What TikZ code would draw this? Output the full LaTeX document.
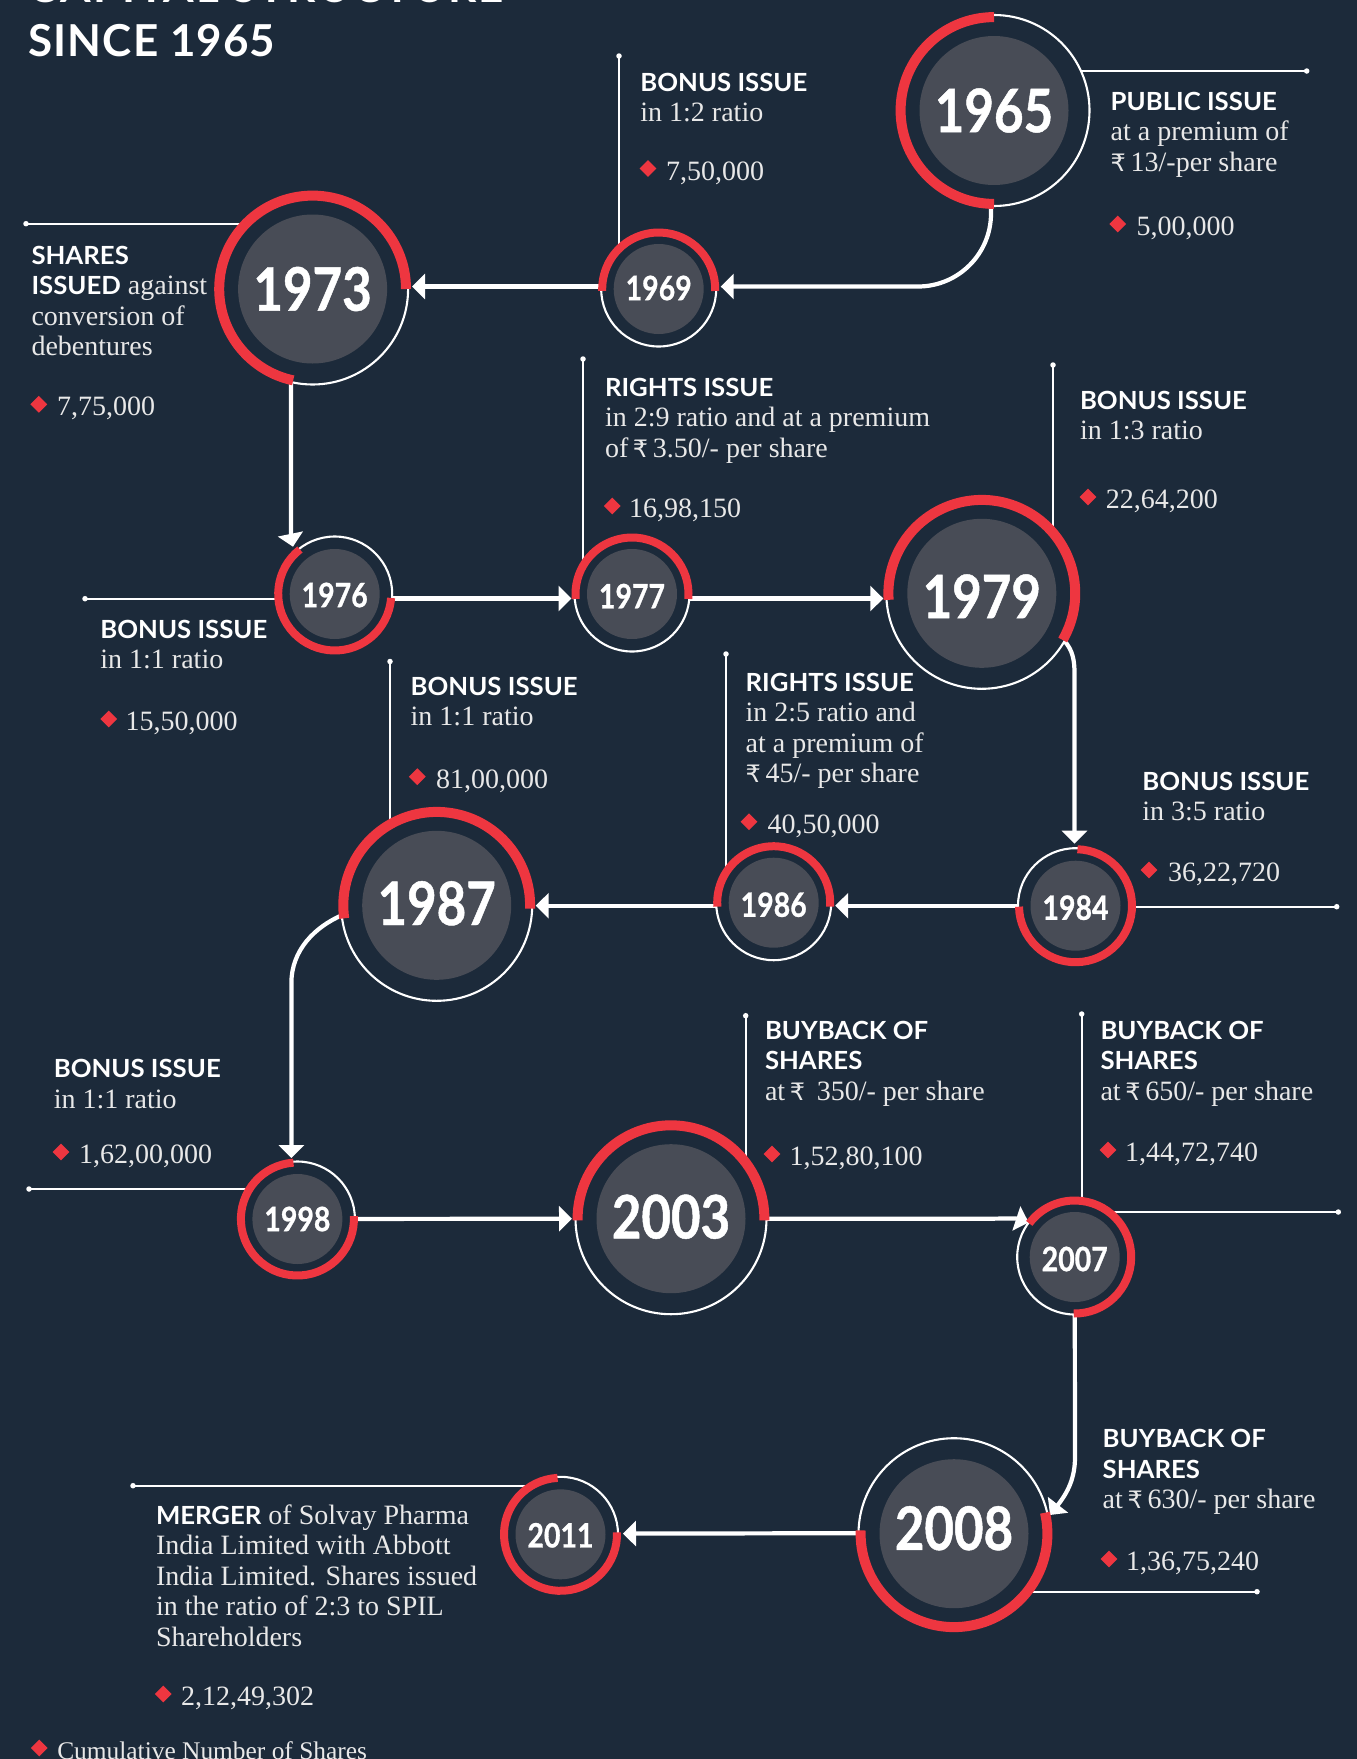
\documentclass[tikz,border=0pt]{standalone}
\usepackage{fontspec}
\setmainfont{Liberation Serif}
\newfontfamily\hdfont[FakeStretch=1.03]{Lato}
\newfontfamily\yearfont[FakeStretch=0.85,FakeBold=0.8]{Lato}
\newfontfamily\titlefont[LetterSpace=2.3]{Lato}
\newfontfamily\titlefontw[LetterSpace=5.3]{Lato}
\newfontfamily\rupeefont{DejaVu Sans}
\usetikzlibrary{arrows.meta,shapes.geometric}
\definecolor{bgc}{RGB}{28,42,58}
\definecolor{discc}{RGB}{72,76,86}
\definecolor{redc}{RGB}{238,54,64}
\definecolor{txtc}{RGB}{232,232,232}
\pgfdeclarelayer{back}
\pgfsetlayers{back,main}
\newcommand{\Rs}{{\rupeefont\fontsize{24}{30.6}\selectfont\char"20B9}}
\newcommand{\hd}[1]{{\hdfont\bfseries\fontsize{25}{30.6}\selectfont\color{white}\strut #1}}
\tikzset{
  x=1pt,y=1pt,
  bigring/.style={circle,draw=white,line width=2.1pt,fill=bgc,minimum size=191pt,inner sep=0pt,outer sep=0pt},
  smallring/.style={circle,draw=white,line width=2.1pt,fill=bgc,minimum size=115pt,inner sep=0pt,outer sep=0pt},
  bigarc/.style={draw=redc,line width=10pt},
  smallarc/.style={draw=redc,line width=8pt},
  bigdisc/.style={circle,fill=discc,minimum size=149pt,inner sep=0pt},
  smalldisc/.style={circle,fill=discc,minimum size=90pt,inner sep=0pt},
  bigyeartext/.style={inner sep=0pt,text=white,font=\yearfont\bfseries\fontsize{60}{60}\selectfont},
  smallyeartext/.style={inner sep=0pt,text=white,font=\yearfont\bfseries\fontsize{33.5}{34}\selectfont},
  conn/.style={draw=white,line width=4.2pt,-{Triangle[length=13pt,width=25pt]}},
  leader/.style={draw=white,line width=1.6pt},
  dotn/.style={circle,fill=white,minimum size=5.5pt,inner sep=0pt},
  lbl/.style={anchor=north west,inner sep=0pt,outer sep=0pt,align=left,text=txtc,font=\fontsize{28}{30.6}\selectfont},
  valn/.style={anchor=base west,inner sep=0pt,outer sep=0pt,text=txtc,font=\fontsize{28}{30.6}\selectfont},
  dia/.style={diamond,fill=redc,inner sep=0pt,minimum size=17pt},
  titlen/.style={anchor=base west,inner sep=0pt,text=white,font=\bfseries\fontsize{44}{50}\selectfont},
}
\newcommand{\bigyear}[6]{%
  \node[bigring] (n#1) at (#2,-#3) {};
  \draw[bigarc] (n#1.center) ++(#4:93.4) arc[start angle=#4,end angle=#5,radius=93.4];
  \node[bigdisc] (d#1) at (n#1.center) {};
  \node[bigyeartext] (y#1) at ([yshift=#6pt]n#1.center) {#1};}
\newcommand{\smallyear}[6]{%
  \node[smallring] (n#1) at (#2,-#3) {};
  \draw[smallarc] (n#1.center) ++(#4:56.5) arc[start angle=#4,end angle=#5,radius=56.5];
  \node[smalldisc] (d#1) at (n#1.center) {};
  \node[smallyeartext] (y#1) at ([yshift=#6pt]n#1.center) {#1};}
\newcommand{\info}[4]{\node[lbl] (t#1) at (#2,{-#3+20.42}) {#4};}
\newcommand{\val}[5]{%
  \node[dia] (m#1) at (#2,-#3) {};
  \node[valn] (v#1) at (#4,{-#3-11.5}) {#5};}
\newcommand{\tick}[3]{\node[dotn] (p#1) at (#2,-#3) {};}
\begin{document}
\begin{tikzpicture}
\useasboundingbox (0,0) rectangle (1357,-1759);
\begin{pgfonlayer}{back}
  \fill[bgc] (0,0) rectangle (1357,-1759);
\end{pgfonlayer}

% title
\node[titlen] (title1) at (28.5,-2) {\titlefontw\bfseries CAPITAL STRUCTURE};
\node[titlen] (title2) at (28.5,-56) {\titlefont\bfseries SINCE 1965};

% year circles
\bigyear{1965}{994}{110.5}{90}{270}{0}
\smallyear{1969}{658.7}{289}{-2}{182}{1}
\bigyear{1973}{312.6}{289}{0}{258}{0}
\smallyear{1976}{334.7}{594}{128}{356}{-1}
\smallyear{1977}{632}{594}{-5}{185}{-2}
\bigyear{1979}{981.8}{593.3}{-30}{184}{-3}
\smallyear{1984}{1075.5}{905.7}{181}{448}{-2}
\smallyear{1986}{773.7}{902.7}{-4}{184}{-2}
\bigyear{1987}{436.7}{905.3}{-2}{188}{2}
\smallyear{1998}{297.4}{1219}{94}{363}{0}
\smallyear{2007}{1074.7}{1257}{-91}{143.5}{-2}
\bigyear{2003}{671}{1218.7}{-1}{181}{2}
\bigyear{2008}{954}{1533.7}{13}{-182}{5.5}
\smallyear{2011}{560.5}{1534.3}{93}{362}{-1}

% labels
\info{1965}{1110.7}{109}{\hd{PUBLIC ISSUE}\\at a premium of\\\Rs\,13/-per share}
\val{1965}{1117.7}{224}{1136.7}{5,00,000}
\info{1969}{640.4}{90}{\hd{BONUS ISSUE}\\in 1:2 ratio}
\val{1969}{648}{168.5}{666}{7,50,000}
\info{1973}{31.5}{263}{\hd{SHARES}\\\hd{ISSUED} against\\conversion of\\debentures}
\val{1973}{38.8}{404.3}{57}{7,75,000}
\info{1977}{605}{395}{\hd{RIGHTS ISSUE}\\in 2:9 ratio and at a premium\\of\,\Rs\,3.50/- per share}
\val{1977}{612.3}{506}{629}{16,98,150}
\info{1979}{1080}{408}{\hd{BONUS ISSUE}\\in 1:3 ratio}
\val{1979}{1088}{497}{1105.8}{22,64,200}
\info{1976}{100.4}{637}{\hd{BONUS ISSUE}\\in 1:1 ratio}
\val{1976}{108.8}{719}{125.6}{15,50,000}
\info{1987}{410.7}{694}{\hd{BONUS ISSUE}\\in 1:1 ratio}
\val{1987}{417.3}{776.7}{436}{81,00,000}
\info{1986}{745.6}{690}{\hd{RIGHTS ISSUE}\\in 2:5 ratio and\\at a premium of\\\Rs\,45/- per share}
\val{1986}{749}{821.7}{767.6}{40,50,000}
\info{1984}{1142.4}{789.3}{\hd{BONUS ISSUE}\\in 3:5 ratio}
\val{1984}{1149}{870}{1168}{36,22,720}
\info{1998}{53.8}{1076.6}{\hd{BONUS ISSUE}\\in 1:1 ratio}
\val{1998}{61}{1152}{79}{1,62,00,000}
\info{2003}{765}{1038}{\hd{BUYBACK OF}\\\hd{SHARES}\\at\,\Rs\, 350/- per share}
\val{2003}{772}{1154}{789.5}{1,52,80,100}
\info{2007}{1100.5}{1038}{\hd{BUYBACK OF}\\\hd{SHARES}\\at\,\Rs\,650/- per share}
\val{2007}{1108}{1150}{1125}{1,44,72,740}
\info{2008}{1102.7}{1446.7}{\hd{BUYBACK OF}\\\hd{SHARES}\\at\,\Rs\,630/- per share}
\val{2008}{1109}{1559}{1126}{1,36,75,240}
\info{2011}{156}{1523}{\hd{MERGER} of Solvay Pharma\\India Limited with Abbott\\India Limited. Shares issued\\in the ratio of 2:3 to SPIL\\Shareholders}
\val{2011}{163.3}{1694}{181}{2,12,49,302}
\val{legend}{39.3}{1748}{57.3}{\fontsize{25.4}{30}\selectfont Cumulative Number of Shares}

% leader end dots
\tick{1965}{1306.7}{71}
\tick{1969}{619}{56}
\tick{1973}{26}{223.7}
\tick{1977}{583}{359}
\tick{1979}{1053}{365}
\tick{1976}{85}{598.7}
\tick{1987}{390}{661.5}
\tick{1986}{726}{654}
\tick{1984}{1336.7}{906.7}
\tick{1998}{29}{1189}
\tick{2003}{745.7}{1015.7}
\tick{2007a}{1081.7}{1014}
\tick{2007b}{1338.3}{1212}
\tick{2008}{1257}{1591.7}
\tick{2011}{133}{1485.7}

% waypoints of the bent connectors
\coordinate (w1973) at (291,-515);
\coordinate (w1979) at (1074.5,-673);
\coordinate (w1987) at (291.4,-983);
\coordinate (w2003) at (985,-1218.7);
\coordinate (w2007) at (1075,-1457);

\begin{pgfonlayer}{back}
  % leaders
  \draw[leader] (p1965.center) -- (p1965.center -| n1965.center);
  \draw[leader] (p1969.center) -- (p1969.center |- n1969.center);
  \draw[leader] (p1973.center) -- (p1973.center -| n1973.center);
  \draw[leader] (p1977.center) -- (p1977.center |- n1977.center);
  \draw[leader] (p1979.center) -- (p1979.center |- n1979.center);
  \draw[leader] (p1976.center) -- (p1976.center -| n1976.center);
  \draw[leader] (p1987.center) -- (p1987.center |- n1987.center);
  \draw[leader] (p1986.center) -- (p1986.center |- n1986.center);
  \draw[leader] (p1984.center) -- (p1984.center -| n1984.center);
  \draw[leader] (p1998.center) -- (p1998.center -| n1998.center);
  \draw[leader] (p2003.center) -- (p2003.center |- n2003.center);
  \draw[leader] (p2007a.center) -- (p2007a.center |- n2007.center);
  \draw[leader] (p2007b.center) -- (p2007b.center -| n2007.center);
  \draw[leader] (p2008.center) -- (p2008.center -| n2008.center);
  \draw[leader] (p2011.center) -- (p2011.center -| n2011.center);

  % flow connectors
  \draw[conn,rounded corners=73pt] ([xshift=-3pt]n1965.center) |- ([xshift=4.5pt,yshift=2.5pt]n1969.east);
  \draw[conn] ([yshift=2.5pt]n1969.center) -- ([xshift=4pt,yshift=2.5pt]n1973.east);
  \draw[conn] ([xshift=-21.6pt]n1973.center) -- (w1973) .. controls (291,-530) and (291,-537) .. ([shift={(-41.7,47.3)}]n1976.center);
  \draw[conn] ([yshift=-4.5pt]n1976.center) -- ([xshift=-3pt,yshift=-4.5pt]n1977.west);
  \draw[conn] ([yshift=-4.5pt]n1977.center) -- ([xshift=-3pt]n1979.west |- 0,-598.5);
  \draw[conn] (n1979.-30) .. controls (1072.5,-650) and (1074.5,-660) .. (w1979) -- ([xshift=-1pt,yshift=4.5pt]n1984.north);
  \draw[conn] (n1984.center) -- ([xshift=4pt]n1986.east |- n1984.center);
  \draw[conn] (n1984.center -| n1986.center) -- ([xshift=3.5pt]n1987.east |- n1984.center);
  \draw[conn] (n1987.186) .. controls (315,-927) and (291.4,-950) .. (w1987) -- ([xshift=-6pt,yshift=3.5pt]n1998.north);
  \draw[conn] (n1998.center) -- ([xshift=-3.5pt]n2003.west);
  \draw[conn] (n2003.center) -- (w2003) .. controls (1003,-1218.7) and (1015,-1218) .. ([shift={(-46,34.5)}]n2007.center);
  \draw[conn] (n2007.center) -- (w2007) .. controls (1075,-1478) and (1068,-1492) .. ([shift={(96,18.7)}]n2008.center);
  \draw[conn] ([yshift=0.7pt]n2008.center) -- ([xshift=5pt,yshift=0.7pt]n2011.east);
\end{pgfonlayer}
\end{tikzpicture}
\end{document}
